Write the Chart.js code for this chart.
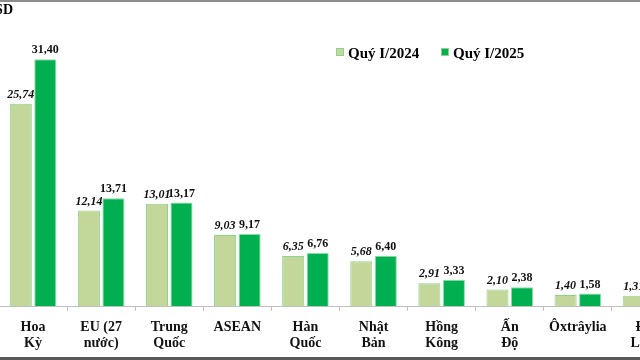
<!DOCTYPE html>
<html>
<head>
<meta charset="utf-8">
<script src="https://cdn.jsdelivr.net/npm/chart.js@4.4.1/dist/chart.umd.min.js"></script>
<style>
    body { margin: 0; background: #fff; }
    #frame
    {
        position: relative;
        width: 640px;
        height: 360px;
        overflow: hidden;
        background: #fff;
        font-family: "Liberation Serif", "Times New Roman", serif;
    }
    #frame:before
    {
        content: "";
        position: absolute;
        left: 0; right: 0; top: 0;
        height: 2px;
        background: #8c8c8c;
        z-index: 2;
    }
    #frame:after
    {
        content: "";
        position: absolute;
        left: 0; right: 0; bottom: 0;
        height: 3px;
        background: #595959;
        z-index: 2;
    }
    #chart { position: absolute; left: -1px; top: 0; }
    #unit
    {
        position: absolute;
        right: 627px;
        top: 2px;
        font-weight: bold;
        font-size: 14px;
        white-space: nowrap;
    }
    .legend-item
    {
        position: absolute;
        top: 45px;
        font-weight: bold;
        font-size: 15px;
        white-space: nowrap;
    }
    .legend-item span
    {
        display: inline-block;
        width: 6px;
        height: 6px;
        margin-right: 4px;
        vertical-align: 2px;
        border: 1px solid #8fd18f;
    }
</style>
</head>
<body>
<div id="frame">
    <canvas id="chart" width="690" height="360"></canvas>
    <div id="unit">Tỷ USD</div>
    <div class="legend-item" style="left:336px"><span style="background:#c4d79b"></span>Quý I/2024</div>
    <div class="legend-item" style="left:441px"><span style="background:#00b050"></span>Quý I/2025</div>
</div>
<script>
const categories = [
    ["Hoa", "Kỳ"], ["EU (27", "nước)"], ["Trung", "Quốc"], ["ASEAN"], ["Hàn", "Quốc"],
    ["Nhật", "Bản"], ["Hồng", "Kông"], ["Ấn", "Độ"], ["Ôxtrâylia"], ["Đài", "Loan"]
];
const q1_2024 = [25.74, 12.14, 13.01, 9.03, 6.35, 5.68, 2.91, 2.10, 1.40, 1.31];
const q1_2025 = [31.40, 13.71, 13.17, 9.17, 6.76, 6.40, 3.33, 2.38, 1.58, 1.55];
const seriesNames = ["Quý I/2024", "Quý I/2025"];

const FONT = "'Liberation Serif', 'Times New Roman', serif";

function formatValue(v)
{
    return v.toFixed(2).replace(".", ",");
}

const valueLabels = {
    id: "valueLabels",
    afterDatasetsDraw(chart)
    {
        const ctx = chart.ctx;
        ctx.save();
        ctx.textAlign = "center";
        ctx.textBaseline = "bottom";
        ctx.fillStyle = "#111";
        chart.data.datasets.forEach((ds, i) => {
            ctx.font = (i === 0 ? "italic " : "") + "bold 12px " + FONT;
            chart.getDatasetMeta(i).data.forEach((bar, j) => {
                ctx.fillText(formatValue(ds.data[j]), bar.x, bar.y - 3);
            });
        });
        ctx.restore();
    }
};

new Chart(document.getElementById("chart"), {
    type: "bar",
    data: {
        labels: categories,
        datasets: [
            {
                label: seriesNames[0],
                data: q1_2024,
                backgroundColor: "#c4d79b",
                borderColor: "#8fd18f",
                borderWidth: 1
            },
            {
                label: seriesNames[1],
                data: q1_2025,
                backgroundColor: "#00b050",
                borderColor: "#8fdca8",
                borderWidth: 1
            }
        ]
    },
    options: {
        responsive: false,
        animation: false,
        categoryPercentage: 0.72,
        barPercentage: 0.9,
        layout: { padding: { left: 0, right: 9, top: 31, bottom: 0 } },
        plugins: {
            legend: { display: false },
            tooltip: { enabled: false }
        },
        scales: {
            x: {
                grid: {
                    offset: true,
                    drawOnChartArea: false,
                    drawTicks: true,
                    tickLength: 5,
                    color: "#bfbfbf"
                },
                border: { display: true, color: "#bfbfbf" },
                ticks: {
                    color: "#111",
                    padding: 8,
                    maxRotation: 0,
                    autoSkip: false,
                    font: { family: FONT, size: 14, weight: "bold", lineHeight: 1.15 }
                },
                afterFit: scale => { scale.height = 54; }
            },
            y: {
                display: false,
                min: 0,
                max: 35
            }
        }
    },
    plugins: [valueLabels]
});
</script>
</body>
</html>
